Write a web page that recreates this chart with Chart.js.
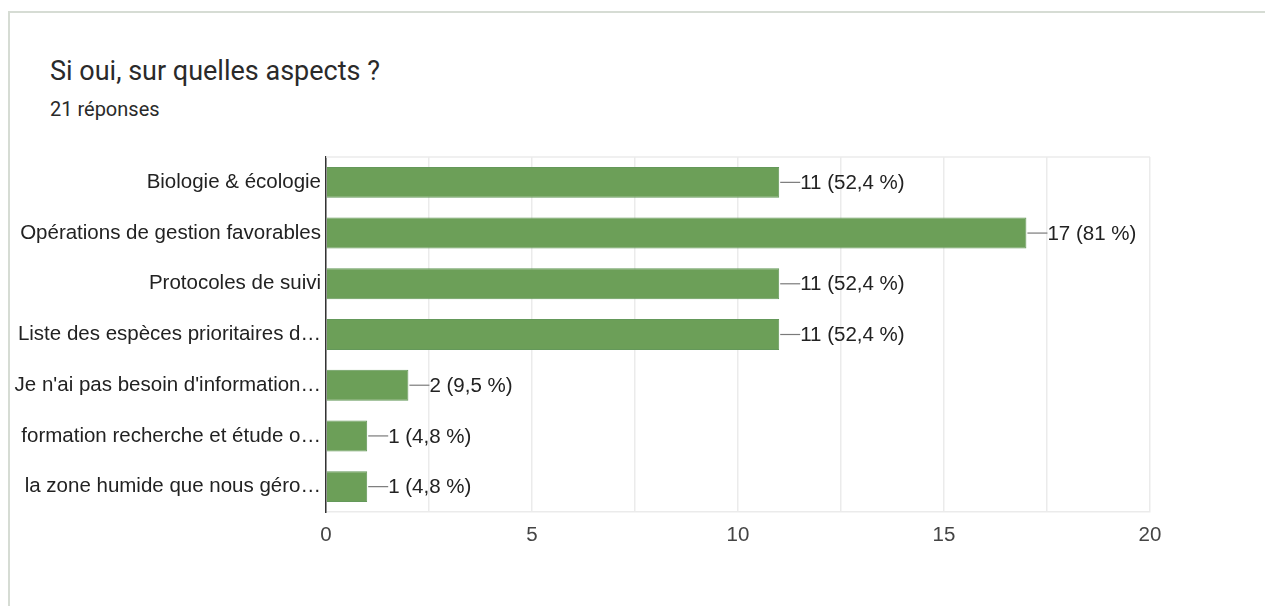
<!DOCTYPE html>
<html>
<head>
<meta charset="utf-8">
<script src="https://cdn.jsdelivr.net/npm/chart.js@4.4.1/dist/chart.umd.min.js"></script>
<style>
  html, body { margin: 0; padding: 0; background: #fff; }
  .card { position: absolute; left: 8px; top: 11px; width: 1270px; height: 620px;
          border-left: 2px solid #d6dcd4; border-top: 2px solid #d6dcd4; }
  .title { position: absolute; left: 50px; top: 55px; font: 27px Roboto, sans-serif; color: #2a2a2a; white-space: nowrap; }
  .sub { position: absolute; left: 50px; top: 97px; font: 20px Roboto, sans-serif; color: #2a2a2a; white-space: nowrap; }
  .forChart { position: absolute; left: 0; top: 0; width: 1265px; height: 606px; }
</style>
</head>
<body>
<div class="card"></div>
<div class="title">Si oui, sur quelles aspects ?</div>
<div class="sub">21 réponses</div>
<div class="forChart"><canvas id="aspects_chart"></canvas></div>
<script>
  // answers, as shown (truncated like in the form summary)
  const labels = [
    'Biologie & écologie',
    'Opérations de gestion favorables',
    'Protocoles de suivi',
    'Liste des espèces prioritaires d…',
    "Je n'ai pas besoin d'information…",
    'formation recherche et étude o…',
    'la zone humide que nous géro…'
  ]
  const counts = [11, 17, 11, 11, 2, 1, 1]
  const percents = ['52,4', '81', '52,4', '52,4', '9,5', '4,8', '4,8']
  const xTicks = [0, 5, 10, 15, 20]

  const FONT = '"Liberation Sans", Arial, sans-serif'

  // little leader line + "n (p %)" after each bar
  const valueLabels = {
    id: 'valueLabels',
    afterDatasetsDraw(chart) {
      const ctx = chart.ctx
      const meta = chart.getDatasetMeta(0)
      ctx.save()
      ctx.font = '20.5px ' + FONT
      ctx.textBaseline = 'middle'
      ctx.textAlign = 'left'
      meta.data.forEach(function(bar, i) {
        ctx.strokeStyle = '#7a7a7a'
        ctx.lineWidth = 1.2
        ctx.beginPath()
        ctx.moveTo(bar.x + 1, bar.y)
        ctx.lineTo(bar.x + 21, bar.y)
        ctx.stroke()
        ctx.fillStyle = '#222222'
        ctx.fillText(counts[i] + ' (' + percents[i] + ' %)', bar.x + 21, bar.y + 1)
      })
      ctx.restore()
    }
  }

  // light frame on top of the plot area
  const topLine = {
    id: 'topLine',
    beforeDatasetsDraw(chart) {
      const a = chart.chartArea
      const ctx = chart.ctx
      ctx.save()
      ctx.strokeStyle = '#ebebeb'
      ctx.lineWidth = 1.5
      ctx.beginPath()
      ctx.moveTo(a.left, a.top)
      ctx.lineTo(a.right, a.top)
      ctx.stroke()
      ctx.restore()
    }
  }

  const config = {
    type: 'bar',
    data: {
      labels: labels,
      datasets: [{
        data: counts,
        backgroundColor: '#6c9f58',
        borderColor: '#64985a',
        borderWidth: 1,
        categoryPercentage: 1,
        barPercentage: 0.61
      }]
    },
    options: {
      maintainAspectRatio: false,
      responsive: true,
      animation: false,
      indexAxis: 'y',
      layout: { padding: { left: 0, top: 157, right: 115, bottom: 54 } },
      plugins: {
        legend: { display: false },
        tooltip: { enabled: false }
      },
      scales: {
        x: {
          min: 0, max: 20,
          afterFit: function(s) { s.height = 40 },
          afterBuildTicks: function(s) {
            s.ticks = [0, 2.5, 5, 7.5, 10, 12.5, 15, 17.5, 20].map(v => ({ value: v }))
          },
          grid: { color: '#ebebeb', lineWidth: 1.5, drawTicks: false },
          border: { display: true, color: '#ebebeb', width: 1.5 },
          ticks: {
            padding: 11,
            color: '#444444',
            font: { family: FONT, size: 20.5 },
            callback: function(v) { return xTicks.includes(v) ? String(v) : '' }
          }
        },
        y: {
          afterFit: function(s) { s.width = 326 },
          grid: { display: false, drawTicks: false },
          border: { display: true, color: '#333333', width: 1.5 },
          ticks: {
            padding: 5,
            color: '#222222',
            autoSkip: false,
            font: { family: FONT, size: 20.5 }
          }
        }
      }
    },
    plugins: [topLine, valueLabels]
  }

  const ctx = document.getElementById('aspects_chart').getContext('2d')
  const aspectsChart = new Chart(ctx, config)
</script>
</body>
</html>
